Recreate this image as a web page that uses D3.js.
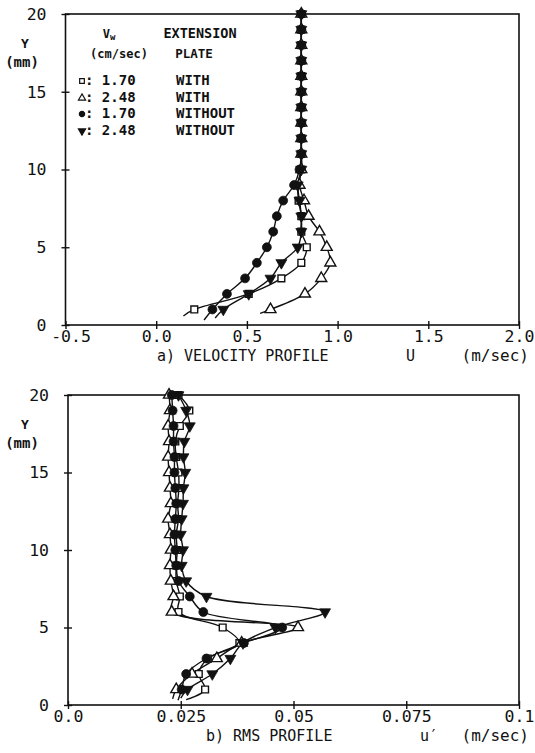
<!DOCTYPE html>
<html>
<head>
<meta charset="utf-8">
<script src="https://cdn.jsdelivr.net/npm/d3@7"></script>
<style>
  body { margin: 0; background: #fff; }
  svg text { font-family: "DejaVu Sans Mono", "Liberation Mono", monospace; fill: #111; }
</style>
</head>
<body>
<svg id="chart" width="535" height="753"></svg>
<script>
// heights above the wall (mm), one reading per mm
var yLevels = [1, 2, 3, 4, 5, 6, 7, 8, 9, 10, 11, 12, 13, 14, 15, 16, 17, 18, 19, 20];

// a) mean velocity U (m/sec)
var velSquare   = [0.21, 0.51, 0.69, 0.80, 0.83, 0.80, 0.80, 0.785, 0.78, 0.80, 0.80, 0.80, 0.80, 0.80, 0.80, 0.80, 0.80, 0.80, 0.80, 0.80];
var velTriangle = [0.63, 0.82, 0.91, 0.96, 0.94, 0.90, 0.84, 0.815, 0.79, 0.80, 0.80, 0.80, 0.80, 0.80, 0.80, 0.80, 0.80, 0.80, 0.80, 0.80];
var velCircle   = [0.31, 0.39, 0.49, 0.555, 0.61, 0.645, 0.665, 0.70, 0.76, 0.79, 0.80, 0.80, 0.80, 0.80, 0.80, 0.80, 0.80, 0.80, 0.80, 0.80];
var velInvTri   = [0.37, 0.51, 0.63, 0.69, 0.78, 0.80, 0.80, 0.79, 0.78, 0.80, 0.80, 0.80, 0.80, 0.80, 0.80, 0.80, 0.80, 0.80, 0.80, 0.80];
// start of each drawn curve below the first marker (U, Y)
var velTailU = [0.15, 0.573, 0.264, 0.325];
var velTailY = [0.58, 0.75, 0.32, 0.45];

// b) rms fluctuation u' (m/sec)
var rmsSquare   = [0.0304, 0.0290, 0.0310, 0.0380, 0.0343, 0.0245, 0.0248, 0.0240, 0.0240, 0.0242, 0.0240, 0.0245, 0.0243, 0.0246, 0.0245, 0.0240, 0.0238, 0.0248, 0.0269, 0.0245];
var rmsTriangle = [0.0240, 0.0275, 0.0330, 0.0385, 0.0510, 0.0230, 0.0234, 0.0228, 0.0226, 0.0228, 0.0226, 0.0222, 0.0228, 0.0226, 0.0224, 0.0222, 0.0224, 0.0222, 0.0226, 0.0224];
var rmsCircle   = [0.0252, 0.0262, 0.0307, 0.0390, 0.0475, 0.0300, 0.0270, 0.0245, 0.0240, 0.0238, 0.0236, 0.0238, 0.0240, 0.0238, 0.0236, 0.0236, 0.0234, 0.0234, 0.0232, 0.0230];
var rmsInvTri   = [0.0265, 0.0320, 0.0360, 0.0388, 0.0460, 0.0570, 0.0307, 0.0262, 0.0252, 0.0255, 0.0250, 0.0252, 0.0255, 0.0256, 0.0260, 0.0256, 0.0258, 0.0270, 0.0262, 0.0245];
var rmsTailU = [0.0262, 0.0232, 0.0244, 0.0250];
var rmsTailY = [0.35, 0.4, 0.3, 0.45];

// ticks
var yTicks = [0, 5, 10, 15, 20];
var yTickLabels = ["0", "5", "10", "15", "20"];
var velTicks = [-0.5, 0.0, 0.5, 1.0, 1.5, 2.0];
var velTickLabels = ["-0.5", "0.0", "0.5", "1.0", "1.5", "2.0"];
var rmsTicks = [0, 0.025, 0.05, 0.075, 0.1];
var rmsTickLabels = ["0.0", "0.025", "0.05", "0.075", "0.1"];

// legend
var legendSpeed = ["1.70", "2.48", "1.70", "2.48"];
var legendPlate = ["WITH", "WITH", "WITHOUT", "WITHOUT"];
var markerKinds = ["square", "triangle", "circle", "invtri"];

var svg = d3.select('#chart');

var markerPath = function(kind) {
    if (kind === 'square') return d3.symbol().type(d3.symbolSquare).size(46)();
    if (kind === 'circle') return d3.symbol().type(d3.symbolCircle).size(62)();
    return d3.symbol().type(d3.symbolTriangle).size(52)();
};

var drawMarker = function(g, kind, x, y) {
    var open = (kind === 'square' || kind === 'triangle');
    g.append('path')
        .attr('d', markerPath(kind))
        .attr('transform', 'translate(' + x + ',' + y + ')' + (kind === 'invtri' ? ' rotate(180)' : ''))
        .attr('fill', open ? '#fff' : '#111')
        .attr('stroke', '#111')
        .attr('stroke-width', open ? 1.4 : 0.8);
};

var createPanel = function(opt) {
    var x = d3.scaleLinear().domain(opt.xDomain).range([opt.left, opt.right]);
    var y = d3.scaleLinear().domain([0, 20]).range([opt.bottom, opt.top]);
    var g = svg.append('g');

    // frame
    g.append('rect')
        .attr('x', opt.left).attr('y', opt.top)
        .attr('width', opt.right - opt.left).attr('height', opt.bottom - opt.top)
        .attr('fill', 'none').attr('stroke', '#111').attr('stroke-width', 1.6);

    var xAxis = d3.axisBottom(x).tickValues(opt.xTicks)
        .tickFormat(function(d, i) { return opt.xLabels[i]; })
        .tickSizeInner(4).tickSizeOuter(0).tickPadding(1);
    var gx = g.append('g').attr('transform', 'translate(0,' + opt.bottom + ')').call(xAxis);
    gx.select('.domain').remove();
    gx.selectAll('.tick line').attr('y1', -4).attr('stroke', '#111').attr('stroke-width', 1.4);
    gx.selectAll('.tick text').attr('font-size', 16.5).attr('dx', function(d, i) { return opt.xLabels[i].charAt(0) === '-' ? 5 : 0; });

    var yAxis = d3.axisLeft(y).tickValues(yTicks)
        .tickFormat(function(d, i) { return yTickLabels[i]; })
        .tickSizeInner(4).tickSizeOuter(0).tickPadding(15);
    var gy = g.append('g').attr('transform', 'translate(' + opt.left + ',0)').call(yAxis);
    gy.select('.domain').remove();
    gy.selectAll('.tick line').attr('x1', 4).attr('stroke', '#111').attr('stroke-width', 1.4);
    gy.selectAll('.tick text').attr('font-size', 16.5);

    g.append('text').attr('x', 25).attr('y', opt.top + 34).attr('text-anchor', 'middle')
        .attr('font-size', 13).attr('font-weight', 'bold').text('Y');
    g.append('text').attr('x', 22).attr('y', opt.top + 53).attr('text-anchor', 'middle')
        .attr('font-size', 14).attr('font-weight', 'bold').text('(mm)');

    g.append('text').attr('x', opt.titleX).attr('y', opt.bottom + 36)
        .attr('font-size', 15).text(opt.title);
    g.append('text').attr('x', opt.unitX).attr('y', opt.bottom + 36)
        .attr('font-size', 15).text(opt.unit);
    g.append('text').attr('x', 529).attr('y', opt.bottom + 36).attr('text-anchor', 'end')
        .attr('font-size', 16).text('(m/sec)');

    var line = d3.line()
        .x(function(d) { return x(d[0]); })
        .y(function(d) { return y(d[1]); })
        .curve(d3.curveCatmullRom.alpha(0.5));

    opt.series.forEach(function(vals, si) {
        var pts = [[opt.tailU[si], opt.tailY[si]]].concat(vals.map(function(v, i) { return [v, yLevels[i]]; }));
        g.append('path').datum(pts)
            .attr('d', line)
            .attr('fill', 'none').attr('stroke', '#111').attr('stroke-width', 1.4);
    });
    // markers drawn after the lines, filled ones last
    [0, 1, 3, 2].forEach(function(si) {
        opt.series[si].forEach(function(v, i) {
            drawMarker(g, markerKinds[si], x(v), y(yLevels[i]));
        });
    });
    return g;
};

createPanel({
    xDomain: [-0.5, 2.0], left: 65.5, right: 519, top: 14, bottom: 325,
    xTicks: velTicks, xLabels: velTickLabels,
    series: [velSquare, velTriangle, velCircle, velInvTri],
    tailU: velTailU, tailY: velTailY,
    title: 'a) VELOCITY PROFILE', titleX: 157, unit: 'U', unitX: 406
});

createPanel({
    xDomain: [0, 0.1], left: 68, right: 519, top: 395, bottom: 705,
    xTicks: rmsTicks, xLabels: rmsTickLabels,
    series: [rmsSquare, rmsTriangle, rmsCircle, rmsInvTri],
    tailU: rmsTailU, tailY: rmsTailY,
    title: 'b) RMS PROFILE', titleX: 206, unit: "u\u2032", unitX: 420
});

// legend inside the velocity panel
var leg = svg.append('g').attr('font-weight', 'bold');
var vw = leg.append('text').attr('x', 109).attr('y', 38).attr('text-anchor', 'middle').attr('font-size', 12);
vw.append('tspan').text('V');
vw.append('tspan').attr('font-size', 9).attr('dy', 2).text('w');
leg.append('text').attr('x', 200).attr('y', 38).attr('text-anchor', 'middle').attr('font-size', 13.5).text('EXTENSION');
leg.append('text').attr('x', 119).attr('y', 58).attr('text-anchor', 'middle').attr('font-size', 12).text('(cm/sec)');
leg.append('text').attr('x', 194).attr('y', 58).attr('text-anchor', 'middle').attr('font-size', 12.5).text('PLATE');

var legendY = [80, 97, 113, 130];
markerKinds.forEach(function(kind, i) {
    var row = leg.append('g');
    row.append('path')
        .attr('d', d3.symbol().type(kind === 'square' ? d3.symbolSquare : (kind === 'circle' ? d3.symbolCircle : d3.symbolTriangle)).size(22)())
        .attr('transform', 'translate(82,' + (legendY[i] + 1) + ')' + (kind === 'invtri' ? ' rotate(180)' : ''))
        .attr('fill', (kind === 'square' || kind === 'triangle') ? '#fff' : '#111')
        .attr('stroke', '#111').attr('stroke-width', 1.2);
    row.append('text').attr('x', 85).attr('y', legendY[i] + 5).attr('font-size', 14)
        .text(': ' + legendSpeed[i]);
    row.append('text').attr('x', 176).attr('y', legendY[i] + 5).attr('font-size', 14).text(legendPlate[i]);
});
</script>
</body>
</html>
